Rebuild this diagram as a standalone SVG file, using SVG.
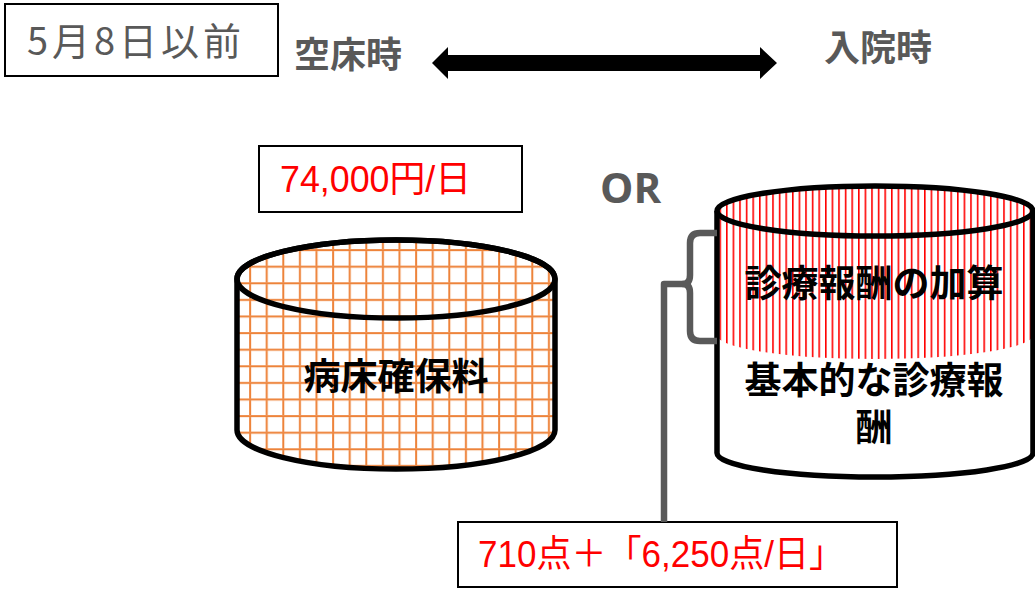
<svg xmlns="http://www.w3.org/2000/svg" width="1035" height="589" viewBox="0 0 1035 589">
  <defs>
    <pattern id="grid" patternUnits="userSpaceOnUse" x="0" y="0" width="16.6" height="16.6">
      <rect width="16.6" height="16.6" fill="#fff"/>
      <rect x="0" y="0" width="2.2" height="16.6" fill="#F4B183"/>
      <rect x="0.4" y="0" width="1.5" height="16.6" fill="#ED7D31"/>
      <rect x="0" y="0" width="16.6" height="2.2" fill="#F4B183"/>
      <rect x="0" y="0.4" width="16.6" height="1.5" fill="#ED7D31"/>
    </pattern>
    <pattern id="stripes" patternUnits="userSpaceOnUse" x="0" y="0" width="6.6" height="10">
      <rect width="6.6" height="10" fill="#fff"/>
      <rect x="0" y="0" width="1.6" height="10" fill="#FF0000"/>
    </pattern>
    <style>
      .box { fill: #fff; stroke: #000; stroke-width: 2; }
      .cyl { stroke: #000; stroke-width: 5.5; stroke-linejoin: round; }
      .head { font-family: "Liberation Sans", "Noto Sans CJK JP", sans-serif; font-weight: 700; font-size: 36px; fill: #595959; }
      .red { font-family: "Liberation Sans", "Noto Sans CJK JP", sans-serif; font-size: 37px; fill: #FF0000; }
      .lbl { font-family: "Liberation Sans", "Noto Sans CJK JP", sans-serif; font-weight: 700; font-size: 37px; fill: #000; text-anchor: middle; }
      .conn { fill: none; stroke: #595959; stroke-width: 6.5; stroke-linejoin: round; }
    </style>
  </defs>
  <rect width="1035" height="589" fill="#fff"/>

  <g id="date-box">
    <rect class="box" x="5" y="4" width="273" height="72"/>
    <text x="27" y="55" font-family="Noto Sans CJK JP, Noto Sans, sans-serif" font-size="38" fill="#595959" textLength="214" lengthAdjust="spacing">5月8日以前</text>
  </g>

  <g id="label-empty">
    <text class="head" x="294" y="68">空床時</text>
  </g>
  <g id="label-admit">
    <text class="head" x="824" y="61">入院時</text>
  </g>

  <g id="price-box">
    <rect class="box" x="259" y="146" width="263" height="66"/>
    <text class="red" x="280" y="192" textLength="191" lengthAdjust="spacingAndGlyphs">74,000円/日</text>
  </g>

  <g id="or-label">
    <text x="600" y="203" font-family="Open Sans, Noto Sans, sans-serif" font-weight="700" font-size="42" fill="#595959">OR</text>
  </g>

  <g id="cylinder-left">
    <path class="cyl" fill="url(#grid)" d="M237,279 V430 A159,39 0 0 0 555,430 V279 A159,39 0 0 0 237,279 Z"/>
    <ellipse class="cyl" fill="none" cx="396" cy="279" rx="159" ry="39"/>
    <text class="lbl" x="396" y="390">病床確保料</text>
  </g>

  <g id="cylinder-right">
    <path fill="#fff" d="M717,335 V453 A158,24 0 0 0 1033,453 V335 Z"/>
    <path fill="url(#stripes)" d="M717,211 V335 A158,24 0 0 0 1033,335 V211 A158,24 0 0 0 717,211 Z"/>
    <path class="cyl" fill="none" d="M717,211 V453 A158,24 0 0 0 1033,453 V211"/>
    <ellipse class="cyl" fill="none" cx="875" cy="211" rx="158" ry="25"/>
    <text class="lbl" x="874" y="297">診療報酬の加算</text>
    <text class="lbl" x="874" y="394">基本的な診療報</text>
    <text class="lbl" x="874" y="441">酬</text>
  </g>

  <g id="points-box">
    <rect class="box" x="458" y="522" width="439" height="65"/>
    <text class="red" x="478" y="567" textLength="366" lengthAdjust="spacingAndGlyphs">710点＋「6,250点/日」</text>
  </g>

  <g id="connectors">
    <polygon fill="#000" points="432,63 448,47 448,55 760,55 760,47 777,63 760,79 760,71 448,71 448,79"/>
    <path class="conn" d="M717,233 H700 Q690,233 690,243 V275 Q690,284 683,284 Q690,284 690,293 V331 Q690,341 700,341 H717"/>
    <path class="conn" d="M686,284 H664 V522"/>
  </g>
</svg>
